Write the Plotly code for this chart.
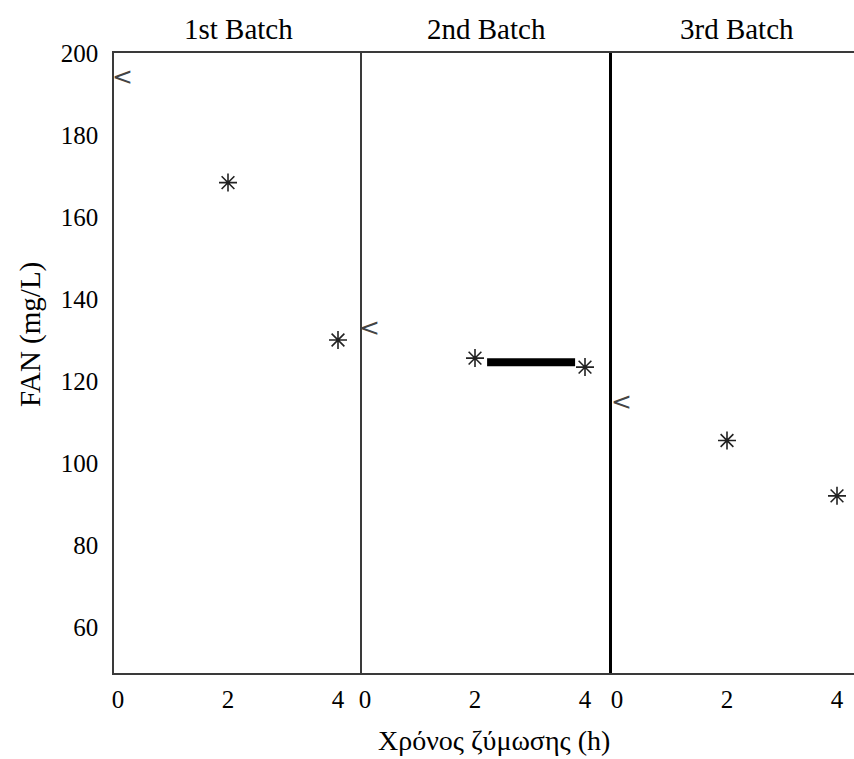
import plotly.graph_objects as go

# Data
batches = ["1st Batch", "2nd Batch", "3rd Batch"]
start_x = [0.08, 0.08, 0.08]
start_y = [193.8, 132.4, 114.4]
star_x = [[2, 4], [2, 4], [2, 4]]
star_y = [[168.4, 130.0], [125.6, 123.4], [105.5, 92.0]]
bar_x = [2.22, 3.82]
bar_y = [124.6, 124.6]
x_ticks = [0, 2, 4]
y_ticks = [60, 80, 100, 120, 140, 160, 180, 200]

FONT = "Liberation Serif"
LINE = "#3a3a3a"

fig = go.Figure()

xaxes = ["x", "x2", "x3"]
yaxes = ["y", "y2", "y3"]
for i in range(3):
    fig.add_trace(go.Scatter(
        x=[start_x[i]], y=[start_y[i]], mode="text", text=["<"],
        textfont=dict(family="DejaVu Sans", size=25, color="#444"),
        xaxis=xaxes[i], yaxis=yaxes[i], showlegend=False, hoverinfo="skip"))
    fig.add_trace(go.Scatter(
        x=star_x[i], y=star_y[i], mode="markers",
        marker=dict(symbol="asterisk-open", size=15, color="#222",
                    line=dict(color="#222", width=1.6)),
        xaxis=xaxes[i], yaxis=yaxes[i], showlegend=False))

fig.add_trace(go.Scatter(
    x=bar_x, y=bar_y, mode="lines", line=dict(color="black", width=8),
    xaxis="x2", yaxis="y2", showlegend=False))

W = 854
L = 114
pw = W - L
d1 = 248 / pw
d2 = 498 / pw
domains = [[0, d1], [d1, d2], [d2, 1]]
ranges = [[-4 / 55, 244 / 55], [-3 / 55, 247 / 55], [-5 / 55, 237 / 55]]
yr = [48.8, 200]

layout = dict(
    width=854, height=759,
    margin=dict(l=L, r=0, t=53, b=86),
    paper_bgcolor="white", plot_bgcolor="white",
    font=dict(family=FONT, color="black"),
)
for i in range(3):
    xk = "xaxis" if i == 0 else f"xaxis{i+1}"
    yk = "yaxis" if i == 0 else f"yaxis{i+1}"
    layout[xk] = dict(
        domain=domains[i], range=ranges[i], tickvals=x_ticks,
        ticks="", showgrid=False, zeroline=False, showline=True,
        linecolor=LINE, linewidth=1.5, mirror=True,
        tickfont=dict(family=FONT, size=25, color="black"),
        ticklabelstandoff=3, anchor=yaxes[i],
    )
    layout[yk] = dict(
        domain=[0, 1], range=yr, showgrid=False, zeroline=False,
        ticks="", anchor=xaxes[i],
        showline=True, linecolor=LINE if i < 2 else "black",
        linewidth=1.5 if i < 2 else 2.5,
        showticklabels=(i == 0),
        tickvals=y_ticks if i == 0 else None,
        tickfont=dict(family=FONT, size=25, color="black"),
        ticklabelstandoff=9,
    )
    if i > 0:
        layout[yk]["matches"] = "y"

title_centers = [238, 487, 737]
annotations = []
for i, name in enumerate(batches):
    annotations.append(dict(
        text=name, x=(title_centers[i] - L) / pw, xanchor="center",
        xref="paper", yref="paper", y=1.0, yanchor="bottom", yshift=6,
        showarrow=False, font=dict(family=FONT, size=29, color="black")))
annotations.append(dict(
    text="Χρόνος ζύμωσης (h)", x=(494 - L) / pw, xanchor="center",
    xref="paper", yref="paper",
    y=0, yanchor="top", yshift=-50, showarrow=False,
    font=dict(family=FONT, size=28, color="black")))
annotations.append(dict(
    text="FAN (mg/L)", textangle=-90, x=(30 - L) / pw, xanchor="center",
    y=(673 - 335) / 620, yanchor="middle", xref="paper", yref="paper",
    showarrow=False, font=dict(family=FONT, size=29, color="black")))
layout["annotations"] = annotations

fig.update_layout(**layout)
fig.write_html("out.html")
